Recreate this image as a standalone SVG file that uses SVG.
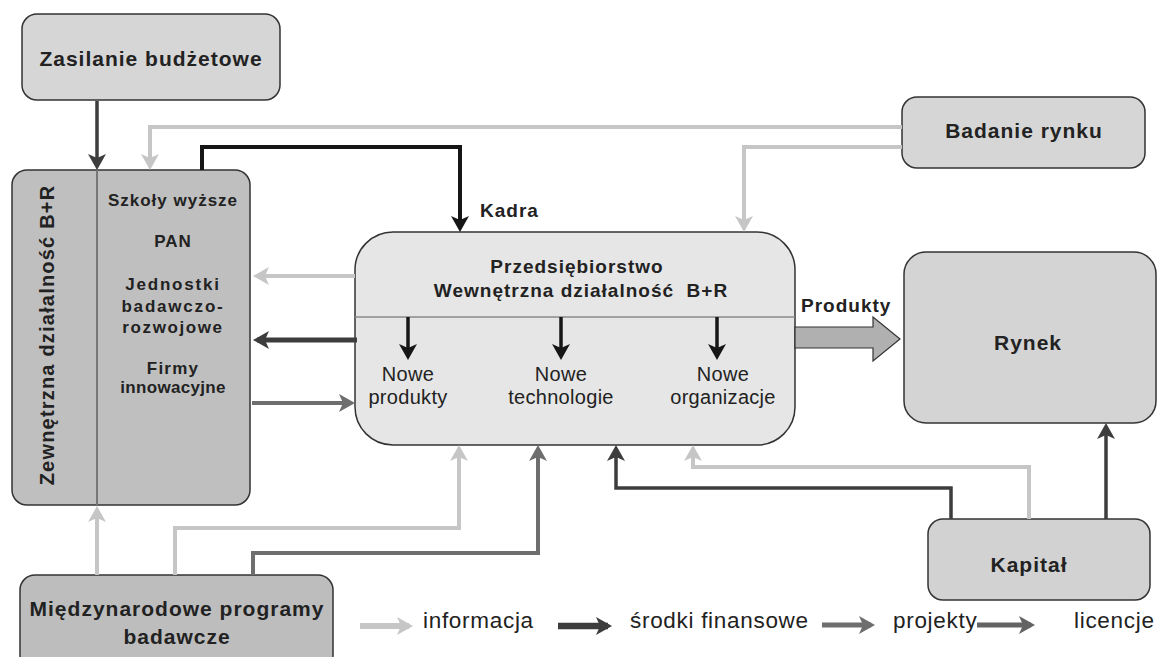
<svg xmlns="http://www.w3.org/2000/svg" width="1161" height="657" viewBox="0 0 1161 657">
<style>
  text { font-family: "Liberation Sans", Arial, sans-serif; fill: #222; }
  .t { font-size: 21px; font-weight: bold; letter-spacing: 1px; text-anchor: middle; }
  .p { font-size: 19px; font-weight: bold; letter-spacing: 1px; text-anchor: middle; }
  .s { font-size: 17px; font-weight: bold; letter-spacing: 1px; text-anchor: middle; }
  .r { font-size: 20px; letter-spacing: 0.3px; text-anchor: middle; }
  .lg { font-size: 22.5px; letter-spacing: 0.7px; }
  .box { stroke: #333; stroke-width: 1.5; }
  .c { fill: none; stroke-linejoin: miter; }
  .light { stroke: #c6c6c6; stroke-width: 4; }
  .dark { stroke: #3d3d3d; stroke-width: 3.5; }
  .black { stroke: #161616; stroke-width: 4; }
  .mid { stroke: #6e6e6e; stroke-width: 4; }
</style>
<defs>
  <marker id="mLight" markerUnits="userSpaceOnUse" viewBox="0 0 16 18" markerWidth="16" markerHeight="18" refX="12" refY="9" orient="auto"><path d="M16,9 L0,0 L4,9 L0,18 Z" fill="#c6c6c6"/></marker>
  <marker id="mDark" markerUnits="userSpaceOnUse" viewBox="0 0 16 18" markerWidth="16" markerHeight="18" refX="12" refY="9" orient="auto"><path d="M16,9 L0,0 L4,9 L0,18 Z" fill="#3d3d3d"/></marker>
  <marker id="mBlack" markerUnits="userSpaceOnUse" viewBox="0 0 16 18" markerWidth="16" markerHeight="18" refX="12" refY="9" orient="auto"><path d="M16,9 L0,0 L4,9 L0,18 Z" fill="#161616"/></marker>
  <marker id="mMid" markerUnits="userSpaceOnUse" viewBox="0 0 16 18" markerWidth="16" markerHeight="18" refX="12" refY="9" orient="auto"><path d="M16,9 L0,0 L4,9 L0,18 Z" fill="#6e6e6e"/></marker>
  <marker id="mMid2" markerUnits="userSpaceOnUse" viewBox="0 0 16 18" markerWidth="16" markerHeight="18" refX="12" refY="9" orient="auto"><path d="M16,9 L0,0 L4,9 L0,18 Z" fill="#636363"/></marker>
</defs>
<rect width="1161" height="657" fill="#ffffff"/>

<g id="zasilanie">
  <rect class="box" x="22" y="14" width="258" height="86" rx="15" fill="#d6d6d6"/>
  <text class="t" x="151" y="66">Zasilanie budżetowe</text>
</g>

<g id="zewnetrzna">
  <rect class="box" x="12" y="170" width="238" height="335" rx="15" fill="#bfbfbf"/>
  <line x1="97" y1="170" x2="97" y2="505" stroke="#777" stroke-width="2"/>
  <text class="p" transform="translate(54,335) rotate(-90)" x="0" y="0" style="font-size:20px;letter-spacing:1.2px">Zewnętrzna działalność B+R</text>
  <text class="s" x="173" y="206">Szkoły wyższe</text>
  <text class="s" x="173" y="247">PAN</text>
  <text class="s" x="173" y="290" style="letter-spacing:1.8px">Jednostki</text>
  <text class="s" x="173" y="312" style="letter-spacing:1.8px">badawczo-</text>
  <text class="s" x="173" y="333" style="letter-spacing:1.6px">rozwojowe</text>
  <text class="s" x="173" y="374" style="letter-spacing:1.2px">Firmy</text>
  <text class="s" x="173" y="393" style="letter-spacing:0.3px">innowacyjne</text>
</g>

<g id="badanie">
  <rect class="box" x="902" y="97" width="243" height="71" rx="15" fill="#d6d6d6"/>
  <text class="t" x="1024" y="138">Badanie rynku</text>
</g>

<g id="przedsiebiorstwo">
  <rect class="box" x="355" y="232" width="440" height="213" rx="38" fill="#e6e6e6"/>
  <line x1="355" y1="317" x2="795" y2="317" stroke="#8a8a8a" stroke-width="1.5"/>
  <text class="p" x="577" y="273">Przedsiębiorstwo</text>
  <text class="p" x="581" y="297" xml:space="preserve">Wewnętrzna działalność  B+R</text>
  <text class="r" x="408" y="381">Nowe</text>
  <text class="r" x="408" y="404">produkty</text>
  <text class="r" x="561" y="381">Nowe</text>
  <text class="r" x="561" y="404">technologie</text>
  <text class="r" x="723" y="381">Nowe</text>
  <text class="r" x="723" y="404">organizacje</text>
</g>

<g id="rynek">
  <rect class="box" x="904" y="252" width="252" height="171" rx="22" fill="#d4d4d4"/>
  <text class="t" x="1028" y="350">Rynek</text>
</g>

<g id="kapital">
  <rect class="box" x="928" y="519" width="222" height="81" rx="15" fill="#d2d2d2"/>
  <text class="t" x="1029" y="572">Kapitał</text>
</g>

<g id="miedzynarodowe">
  <rect class="box" x="20" y="575" width="313" height="95" rx="15" fill="#bdbdbd"/>
  <text class="t" x="177" y="616">Międzynarodowe programy</text>
  <text class="t" x="177" y="644">badawcze</text>
</g>

<g id="connectors">
  <path class="c dark" d="M97,101 V166" marker-end="url(#mDark)"/>
  <path class="c light" d="M902,127 H150 V166" marker-end="url(#mLight)"/>
  <path class="c black" d="M202,170 V147 H460 V228" marker-end="url(#mBlack)"/>
  <path class="c light" d="M902,147 H744 V228" marker-end="url(#mLight)"/>
  <path class="c light" d="M355,276 H257" marker-end="url(#mLight)"/>
  <path class="c dark" d="M357,340 H257" style="stroke-width:5" marker-end="url(#mDark)"/>
  <path class="c mid" d="M252,403 H351" marker-end="url(#mMid)"/>
  <path class="c black" d="M408,317 V356" style="stroke-width:3.5" marker-end="url(#mBlack)"/>
  <path class="c black" d="M561,317 V356" style="stroke-width:3.5" marker-end="url(#mBlack)"/>
  <path class="c black" d="M717,317 V356" style="stroke-width:3.5" marker-end="url(#mBlack)"/>
  <path class="c light" d="M97,575 V510" marker-end="url(#mLight)"/>
  <path class="c light" d="M175,575 V528 H459 V449" marker-end="url(#mLight)"/>
  <path class="c mid" d="M253,575 V553 H538 V449" marker-end="url(#mMid)"/>
  <path class="c dark" d="M951,519 V488 H616 V449" marker-end="url(#mDark)"/>
  <path class="c light" d="M1029,519 V467 H693 V449" marker-end="url(#mLight)"/>
  <path class="c dark" d="M1106,519 V427" marker-end="url(#mDark)"/>
  <polygon points="795,327 873,327 873,317 900,339 873,361 873,348 795,348" fill="#b0b0b0" stroke="#333" stroke-width="1.2"/>
  <text class="p" x="801" y="312" style="text-anchor:start">Produkty</text>
  <text class="p" x="480" y="217" style="text-anchor:start">Kadra</text>
</g>

<g id="legend">
  <path class="c light" d="M360,626 H409" style="stroke-width:6" marker-end="url(#mLight)"/>
  <text class="lg" x="423" y="628">informacja</text>
  <path class="c dark" d="M558,626 H608" style="stroke-width:6.5" marker-end="url(#mDark)"/>
  <text class="lg" x="630" y="628">środki finansowe</text>
  <path class="c mid" d="M822,625 H871" style="stroke-width:5" marker-end="url(#mMid)"/>
  <text class="lg" x="893" y="628">projekty</text>
  <path class="c" d="M977,625 H1031" style="stroke:#636363;stroke-width:5" marker-end="url(#mMid2)"/>
  <text class="lg" x="1074" y="628">licencje</text>
</g>
</svg>
